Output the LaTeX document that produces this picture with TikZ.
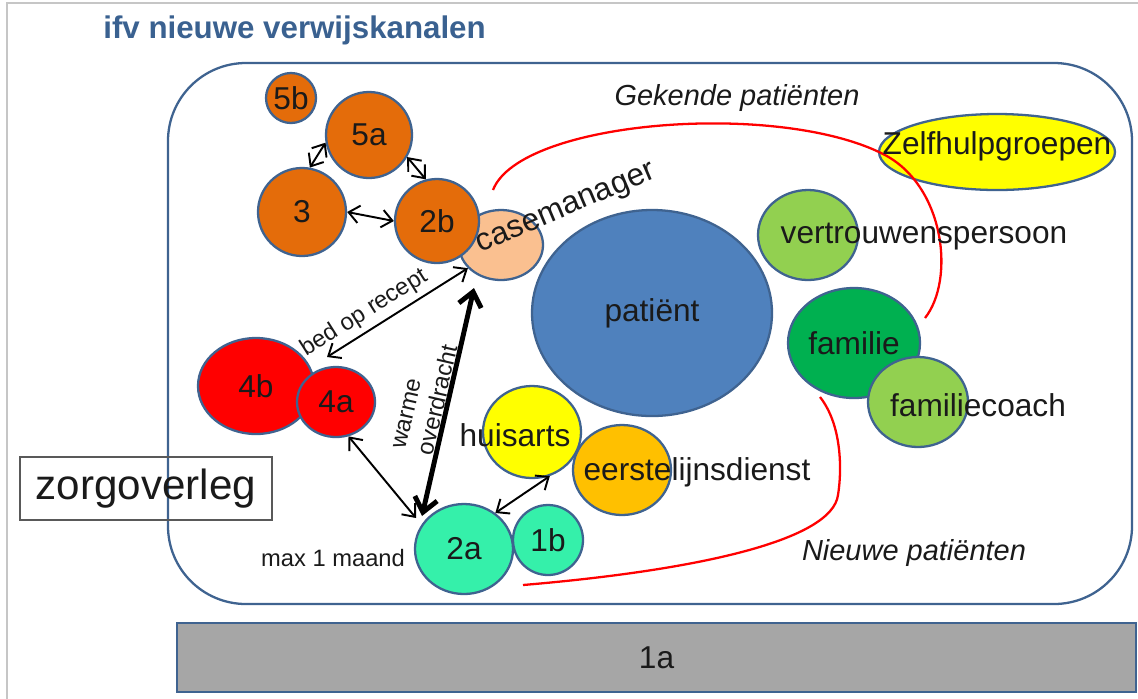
\documentclass[tikz,border=0pt]{standalone}
\usepackage{fontspec}
\setmainfont{Liberation Sans}
\usetikzlibrary{shapes.geometric,arrows.meta}

\definecolor{rand}{HTML}{3F6390}
\definecolor{titelkl}{HTML}{3A6190}
\definecolor{oranje}{HTML}{E46C0A}
\definecolor{perzik}{HTML}{FAC090}
\definecolor{blauw}{HTML}{4F81BD}
\definecolor{lichtgroen}{HTML}{92D050}
\definecolor{groen}{HTML}{00B050}
\definecolor{geel}{HTML}{FFFF00}
\definecolor{goud}{HTML}{FFC000}
\definecolor{munt}{HTML}{35F0AA}
\definecolor{balkgrijs}{HTML}{A6A6A6}
\definecolor{tekstkl}{HTML}{1A1A1A}

\tikzset{
  bol/.style={ellipse, draw=rand, line width=1.3pt, inner sep=0pt},
  maat/.style 2 args={minimum width=#1*0.02cm, minimum height=#2*0.02cm},
  tekst/.style={font=\fontsize{18}{21}\selectfont, text=tekstkl},
  klein/.style={font=\fontsize{13.5}{16}\selectfont, text=tekstkl},
  pijl/.style={<->, line width=1.1pt},
  dikpijl/.style={{Straight Barb[length=8pt,width=13pt]}-{Straight Barb[length=8pt,width=13pt]}, line width=2.8pt},
  rood/.style={draw=red, line width=1.3pt}
}

\begin{document}
\begin{tikzpicture}[x=0.02cm, y=-0.02cm, >={Straight Barb[length=6pt,width=10pt]}]
    \useasboundingbox (0,0) rectangle (1138,698);

    % kader rond de dia
    \draw[gray!45, line width=1.2pt] (7,700) -- (7,3) -- (1140,3);

    % titel
    \node[anchor=west, inner sep=0pt, font=\fontsize{17.8}{21}\selectfont\bfseries, text=titelkl] (titel) at (103,30) {ifv nieuwe verwijskanalen};

    % grote afgeronde kader
    \draw[rand, line width=1.3pt, rounded corners=1.56cm] (168,63) rectangle (1132,604);

    % balk onderaan
    \node[draw=rand, fill=balkgrijs, line width=1.3pt, maat={959}{69}, tekst] (n1a) at (656.5,657.5) {1a};

    % zorgoverleg
    \node[draw=gray!70!black, line width=0.8pt, maat={252}{63}, text=tekstkl, font=\fontsize{24}{28}\selectfont] (zorg) at (146,488.5) {zorgoverleg};

    % oranje cirkels
    \node[bol, fill=oranje, maat={50}{50}, tekst] (n5b) at (291,98) {5b};
    \node[bol, fill=oranje, maat={86}{86}, tekst] (n5a) at (369,135) {5a};
    \node[bol, fill=oranje, maat={88}{88}, tekst] (n3) at (302,212) {3};
    \node[bol, fill=perzik, maat={84}{70}] (ncase) at (501,245) {};
    \node[bol, fill=oranje, maat={84}{84}, tekst] (n2b) at (437,221) {2b};

    % patient en omgeving
    \node[bol, fill=blauw, maat={240}{206}, tekst] (npat) at (652,313) {patiënt};
    \node[bol, fill=geel, maat={236}{76}] (nzelf) at (997,152) {};
    \node[bol, fill=lichtgroen, maat={100}{90}] (nvert) at (808,235) {};
    \node[bol, fill=groen, maat={132}{110}, tekst] (nfam) at (854,343) {familie};
    \node[bol, fill=lichtgroen, maat={100}{90}] (ncoach) at (918,402) {};

    % rode cirkels
    \node[bol, fill=red, maat={116}{96}, tekst] (n4b) at (256,386) {4b};
    \node[bol, fill=red, maat={78}{70}, tekst] (n4a) at (336,402) {4a};

    % eerste lijn
    \node[bol, fill=geel, maat={98}{92}] (nhuis) at (532,432) {};
    \node[bol, fill=goud, maat={98}{90}] (neerst) at (622,470) {};
    \node[bol, fill=munt, maat={98}{90}, tekst] (n2a) at (464,549) {2a};
    \node[bol, fill=munt, maat={70}{70}, tekst] (n1b) at (548,540) {1b};

    % rode lijnen
    \draw[rood] (493,190) .. controls (520,120) and (780,100) .. (885,155)
                .. controls (945,187) and (955,280) .. (925,318);
    \draw[rood] (820,397) .. controls (842,425) and (842,470) .. (838,495)
                .. controls (832,540) and (700,570) .. (523,585);

    % teksten naast de bollen
    \node[tekst, rotate=23] (tcase) at (567,210) {casemanager};
    \node[tekst] (tzelf) at (997,146) {Zelfhulpgroepen};
    \node[tekst] (tvert) at (924,237) {vertrouwenspersoon};
    \node[tekst] (tcoach) at (978,405) {familiecoach};
    \node[tekst] (thuis) at (515,435) {huisarts};
    \node[tekst] (teerst) at (697,472) {eerstelijnsdienst};
    \node[klein] (tmaand) at (333,558) {max 1 maand};
    \node[tekst, font=\fontsize{16.5}{20}\selectfont\itshape] (tgekend) at (737,98) {Gekende patiënten};
    \node[tekst, font=\fontsize{16.5}{20}\selectfont\itshape] (tnieuw) at (914,553) {Nieuwe patiënten};

    % eindpunten van de pijlen
    \coordinate (bedeind) at (327,357);
    \coordinate (warmtop) at (474,288);
    \coordinate (warmeind) at (422,516);
    \coordinate (kruiseind) at (416,518);

    % pijlen
    \draw[pijl] (n3.80) -- (n5a.190);
    \draw[pijl] (n5a.-30) -- (n2b.105);
    \draw[pijl] (n3.0) -- (n2b.180);
    \draw[pijl] (ncase.215) -- (bedeind)
        node[pos=0.67, above, sloped, klein, inner sep=3pt] (tbed) {bed op recept};
    \draw[dikpijl] (warmtop) -- (warmeind)
        node[midway, above, sloped, klein, align=left, inner sep=0pt] (twarm) {warme\\overdracht};
    \draw[pijl] (n4a.-70) -- (kruiseind);
    \draw[pijl] (n2a.49) -- (nhuis.-68);

\end{tikzpicture}
\end{document}
